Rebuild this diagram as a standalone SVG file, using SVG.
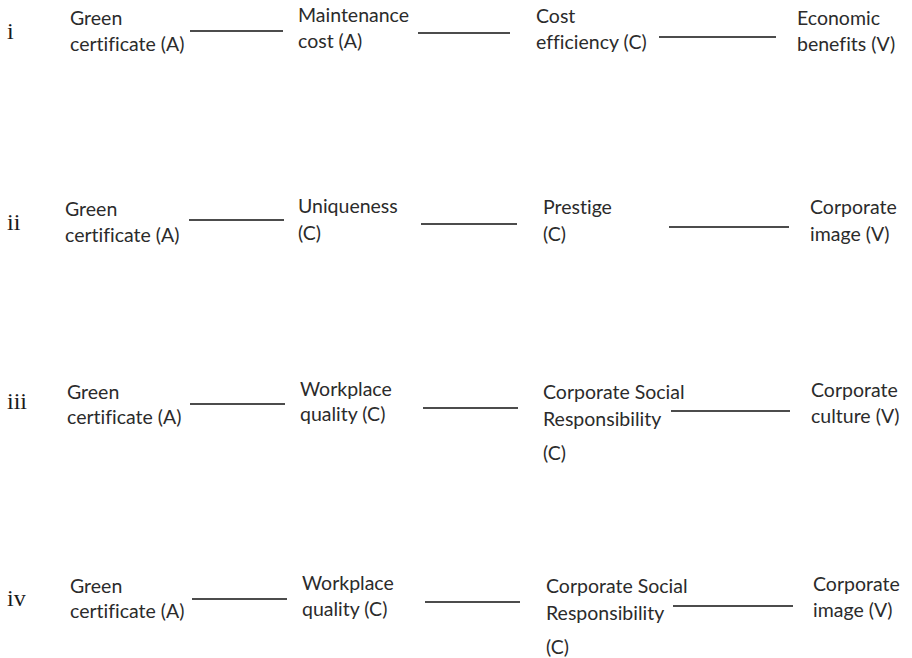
<svg xmlns="http://www.w3.org/2000/svg" width="912" height="658" viewBox="0 0 912 658">
<style>
.t{font-family:Lato,"Open Sans","Liberation Sans",sans-serif;font-size:19.5px;fill:#2b2b2b;font-variant-ligatures:none;font-feature-settings:"liga" 0}
.r{font-family:"Liberation Serif","DejaVu Serif",serif;font-size:24px;fill:#1a1a1a}
.c{stroke:#111;stroke-width:1.5;fill:none}
</style>
<rect width="912" height="658" fill="#fff"/>
<g id="labels">
<text class="r" x="7" y="39">i</text>
<text class="r" x="7" y="230">ii</text>
<text class="r" x="7" y="409">iii</text>
<text class="r" x="7" y="606">iv</text>
</g>
<g id="connectors">
<line class="c" x1="190" y1="31" x2="283" y2="31"/>
<line class="c" x1="418" y1="33" x2="510" y2="33"/>
<line class="c" x1="659" y1="37" x2="776" y2="37"/>
<line class="c" x1="189" y1="220" x2="284" y2="220"/>
<line class="c" x1="421" y1="224" x2="517" y2="224"/>
<line class="c" x1="669" y1="227" x2="789" y2="227"/>
<line class="c" x1="190" y1="404" x2="285" y2="404"/>
<line class="c" x1="423" y1="408" x2="518" y2="408"/>
<line class="c" x1="671" y1="411" x2="790" y2="411"/>
<line class="c" x1="192" y1="599" x2="287" y2="599"/>
<line class="c" x1="425" y1="602" x2="520" y2="602"/>
<line class="c" x1="673" y1="606" x2="793" y2="606"/>
</g>
<g id="i-green"><text class="t" x="70" y="25">Green</text><text class="t" x="70" y="51">certificate (A)</text></g>
<g id="i-maint"><text class="t" x="298" y="22">Maintenance</text><text class="t" x="298" y="48">cost (A)</text></g>
<g id="i-cost"><text class="t" x="536" y="23">Cost</text><text class="t" x="536" y="49">efficiency (C)</text></g>
<g id="i-econ"><text class="t" x="797" y="25">Economic</text><text class="t" x="797" y="51">benefits (V)</text></g>
<g id="ii-green"><text class="t" x="65" y="216">Green</text><text class="t" x="65" y="242">certificate (A)</text></g>
<g id="ii-uniq"><text class="t" x="298" y="213">Uniqueness</text><text class="t" x="298" y="240">(C)</text></g>
<g id="ii-prest"><text class="t" x="543" y="214">Prestige</text><text class="t" x="543" y="241">(C)</text></g>
<g id="ii-image"><text class="t" x="810" y="214">Corporate</text><text class="t" x="810" y="241">image (V)</text></g>
<g id="iii-green"><text class="t" x="67" y="399">Green</text><text class="t" x="67" y="424">certificate (A)</text></g>
<g id="iii-work"><text class="t" x="300" y="396">Workplace</text><text class="t" x="300" y="421">quality (C)</text></g>
<g id="iii-csr"><text class="t" x="543" y="399">Corporate Social</text><text class="t" x="543" y="426">Responsibility</text><text class="t" x="543" y="460">(C)</text></g>
<g id="iii-culture"><text class="t" x="811" y="397">Corporate</text><text class="t" x="811" y="423">culture (V)</text></g>
<g id="iv-green"><text class="t" x="70" y="593">Green</text><text class="t" x="70" y="618">certificate (A)</text></g>
<g id="iv-work"><text class="t" x="302" y="590">Workplace</text><text class="t" x="302" y="616">quality (C)</text></g>
<g id="iv-csr"><text class="t" x="546" y="593">Corporate Social</text><text class="t" x="546" y="620">Responsibility</text><text class="t" x="546" y="654">(C)</text></g>
<g id="iv-image"><text class="t" x="813" y="591">Corporate</text><text class="t" x="813" y="617">image (V)</text></g>
</svg>
